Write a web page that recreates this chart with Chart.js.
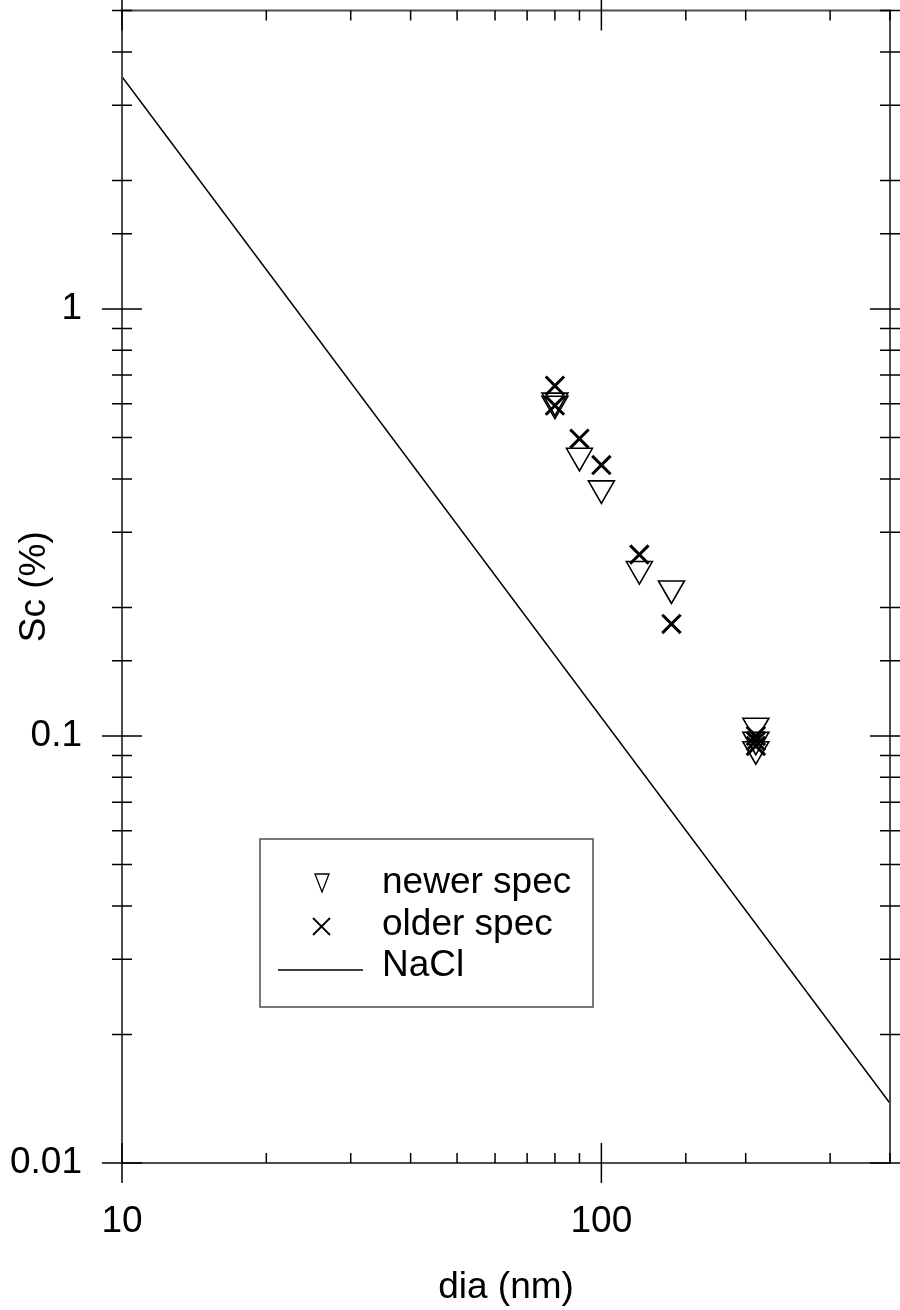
<!DOCTYPE html>
<html>
<head>
<meta charset="utf-8">
<script src="https://cdn.jsdelivr.net/npm/chart.js@4/dist/chart.umd.min.js"></script>
<style>
  html, body { margin: 0; padding: 0; background: #fff; }
</style>
</head>
<body>
<canvas id="chart" width="900" height="1310"></canvas>
<script>
// values
var newerDia = [80, 80, 90, 100, 120, 140, 210, 210, 210];
var newerSc = [0.61, 0.60, 0.453, 0.380, 0.246, 0.2215, 0.1057, 0.098, 0.0931];
var olderDia = [80, 80, 90, 100, 120, 140, 210, 210, 210];
var olderSc = [0.661, 0.594, 0.497, 0.431, 0.266, 0.183, 0.100, 0.0973, 0.0948];
var naclDia = [10, 400];
var naclSc = [3.5, 0.0138];
var xTickLabels = ['10', '100'];
var yTickLabels = ['0.01', '0.1', '1'];
var seriesNames = ['newer spec', 'older spec', 'NaCl'];

var FONT = '"Liberation Sans", Arial, sans-serif';

function pts(xs, ys) {
    return xs.map(function (v, i) { return { x: v, y: ys[i] }; });
}

function isDecade(v) {
    var l = Math.log10(v);
    return Math.abs(l - Math.round(l)) < 1e-6;
}

function pickLabel(list, v) {
    for (var i = 0; i < list.length; i++) {
        if (Math.abs(parseFloat(list[i]) - v) < 1e-9) return list[i];
    }
    return '';
}

// frame, crossing ticks and the boxed legend
var frameTicks = {
    id: 'frameTicks',
    afterDatasetsDraw: function (chart) {
        var ctx = chart.ctx, a = chart.chartArea;
        var x = chart.scales.x, y = chart.scales.y;
        ctx.save();
        ctx.strokeStyle = '#4d4d4d';
        ctx.lineWidth = 2;
        ctx.strokeRect(a.left, a.top, a.right - a.left, a.bottom - a.top);

        ctx.strokeStyle = '#000';
        ctx.lineWidth = 1.5;
        ctx.beginPath();
        y.ticks.forEach(function (t) {
            var py = y.getPixelForValue(t.value);
            var len = isDecade(t.value) ? 20 : 10;
            ctx.moveTo(a.left - len, py); ctx.lineTo(a.left + len, py);
            ctx.moveTo(a.right - len, py); ctx.lineTo(a.right + len, py);
        });
        x.ticks.forEach(function (t) {
            var px = x.getPixelForValue(t.value);
            if (isDecade(t.value)) {
                ctx.moveTo(px, a.bottom - 20); ctx.lineTo(px, a.bottom + 20);
                ctx.moveTo(px, a.top - 20); ctx.lineTo(px, a.top + 20);
            } else {
                ctx.moveTo(px, a.bottom - 10); ctx.lineTo(px, a.bottom);
                ctx.moveTo(px, a.top); ctx.lineTo(px, a.top + 10);
            }
        });
        ctx.stroke();

        // legend
        ctx.strokeStyle = '#4d4d4d';
        ctx.lineWidth = 1.5;
        ctx.strokeRect(260, 839, 333, 168);

        ctx.strokeStyle = '#000';
        ctx.lineWidth = 1.3;
        ctx.beginPath();
        ctx.moveTo(315, 874); ctx.lineTo(329, 874); ctx.lineTo(322, 892); ctx.closePath();
        ctx.stroke();

        ctx.lineWidth = 1.8;
        ctx.beginPath();
        ctx.moveTo(313, 918); ctx.lineTo(330, 935);
        ctx.moveTo(330, 918); ctx.lineTo(313, 935);
        ctx.stroke();

        ctx.lineWidth = 1.5;
        ctx.beginPath();
        ctx.moveTo(278, 970); ctx.lineTo(363, 970);
        ctx.stroke();

        ctx.fillStyle = '#000';
        ctx.font = '37px ' + FONT;
        ctx.textAlign = 'left';
        ctx.textBaseline = 'alphabetic';
        ctx.fillText(seriesNames[0], 382, 893);
        ctx.fillText(seriesNames[1], 382, 935);
        ctx.fillText(seriesNames[2], 382, 976);
        ctx.restore();
    }
};

Chart.defaults.font.family = FONT;
Chart.defaults.color = '#000';

new Chart(document.getElementById('chart'), {
    type: 'scatter',
    data: {
        datasets: [{
            label: seriesNames[0],
            data: pts(newerDia, newerSc),
            pointStyle: 'triangle',
            rotation: 180,
            pointRadius: 15,
            borderColor: '#000',
            backgroundColor: 'rgba(0,0,0,0)',
            borderWidth: 1.6
        }, {
            label: seriesNames[1],
            data: pts(olderDia, olderSc),
            pointStyle: 'crossRot',
            pointRadius: 13,
            borderColor: '#000',
            borderWidth: 3
        }, {
            label: seriesNames[2],
            data: pts(naclDia, naclSc),
            showLine: true,
            pointRadius: 0,
            borderColor: '#000',
            borderWidth: 1.5
        }]
    },
    options: {
        responsive: false,
        animation: false,
        devicePixelRatio: 1,
        layout: {
            autoPadding: false,
            padding: { left: 0, top: 10.5, right: 10, bottom: 0 }
        },
        plugins: {
            legend: { display: false },
            tooltip: { enabled: false }
        },
        scales: {
            x: {
                type: 'logarithmic',
                min: 10,
                max: 400,
                grid: { display: false },
                border: { display: false },
                ticks: {
                    autoSkip: false,
                    maxRotation: 0,
                    padding: 29,
                    font: { size: 37 },
                    callback: function (v) { return pickLabel(xTickLabels, v); }
                },
                title: {
                    display: true,
                    text: 'dia (nm)',
                    font: { size: 37 },
                    padding: { top: 0, bottom: 0 }
                },
                afterFit: function (s) {
                    s.height = 147;
                    s.paddingLeft = 0;
                    s.paddingRight = 0;
                }
            },
            y: {
                type: 'logarithmic',
                min: 0.01,
                max: 5,
                grid: { display: false },
                border: { display: false },
                ticks: {
                    autoSkip: false,
                    padding: 32,
                    font: { size: 37 },
                    callback: function (v) { return pickLabel(yTickLabels, v); }
                },
                title: {
                    display: true,
                    text: 'Sc (%)',
                    font: { size: 37 },
                    padding: { top: 13, bottom: 0 }
                },
                afterFit: function (s) {
                    s.width = 122;
                    s.paddingTop = 0;
                    s.paddingBottom = 0;
                }
            }
        }
    },
    plugins: [frameTicks]
});
</script>
</body>
</html>
